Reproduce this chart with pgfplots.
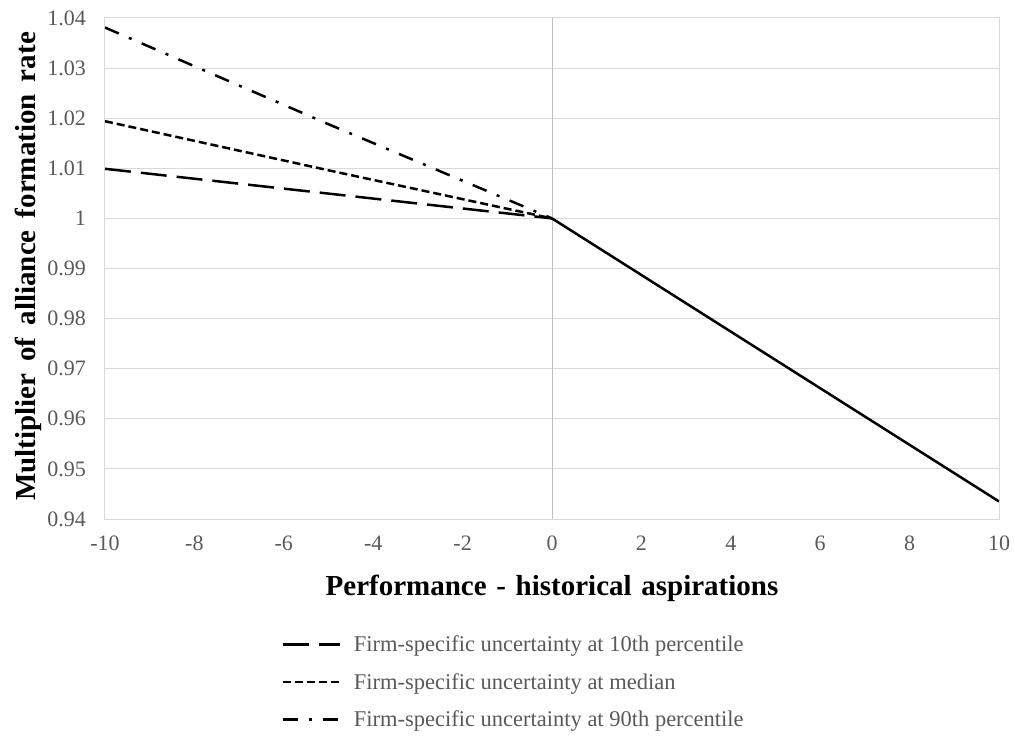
\documentclass[border=0pt]{standalone}
\usepackage{fontspec}
\setmainfont{Liberation Serif}
\usepackage{pgfplots}
\pgfplotsset{compat=1.18}
\definecolor{tickgray}{HTML}{595959}
\definecolor{gridgray}{HTML}{D9D9D9}
\definecolor{zerogray}{HTML}{BFBFBF}
\begin{document}
\begin{tikzpicture}
\useasboundingbox (-105pt,-217pt) rectangle (910pt,519pt);
\begin{axis}[
  scale only axis,
  width=894pt, height=501pt,
  xmin=-10, xmax=10, ymin=0.94, ymax=1.04,
  xtick={-10,-8,-6,-4,-2,0,2,4,6,8,10},
  xticklabels={-10,-8,-6,-4,-2,0,2,4,6,8,10},
  ytick={0.94,0.95,0.96,0.97,0.98,0.99,1,1.01,1.02,1.03,1.04},
  yticklabels={0.94,0.95,0.96,0.97,0.98,0.99,1,1.01,1.02,1.03,1.04},
  major tick length=0pt,
  axis line style={gridgray, line width=1pt},
  ymajorgrids, grid style={gridgray, line width=1pt},
  tick label style={font=\fontsize{22}{26}\selectfont, text=tickgray, inner sep=0pt},
  xticklabel style={anchor=north, yshift=-17pt},
  yticklabel style={anchor=east, xshift=-19pt},
  xlabel={\textbf{Performance\,\,-\,\,historical\,\,aspirations}},
  ylabel={\textbf{Multiplier\, of\, alliance\, formation\, rate}},
  xlabel style={font=\fontsize{29}{33}\selectfont, at={(axis description cs:0.5,-0.138)}, anchor=center},
  ylabel style={font=\fontsize{29}{33}\selectfont, at={(axis description cs:-0.0861,0.504)}, anchor=center, rotate=0},
  legend style={draw=none, fill=none, font=\fontsize{22.5}{26}\selectfont, text=tickgray,
    at={(axis description cs:0.197,-0.229)}, anchor=north west, inner sep=0pt,
    row sep=16pt, cells={anchor=west}},
  legend image code/.code={\draw[#1] (0pt,0pt) -- (57pt,0pt); \path (0pt,0pt) (68pt,0pt);},
  legend cell align=left,
]
\addplot[zerogray, line width=1pt, forget plot] coordinates {(0,0.94) (0,1.04)};
\addplot[black, line width=2.5pt, dash pattern=on 26pt off 10pt] coordinates {(-10,1.0099) (-5,1.00495) (0,1.0)};
\addlegendentry{Firm-specific uncertainty at 10th percentile}
\addplot[black, line width=2.5pt, dash pattern=on 8pt off 4pt] coordinates {(-10,1.0194) (-5,1.0096) (0,1.0)};
\addlegendentry{Firm-specific uncertainty at median}
\addplot[black, line width=2.5pt, dash pattern=on 15pt off 11pt on 3pt off 11pt] coordinates {(-10,1.0381) (-5,1.0188) (0,1.0)};
\addlegendentry{Firm-specific uncertainty at 90th percentile}
\addplot[black, line width=2.5pt, forget plot] coordinates {(0,1.0) (5,0.97175) (10,0.9435)};
\end{axis}
\end{tikzpicture}
\end{document}
